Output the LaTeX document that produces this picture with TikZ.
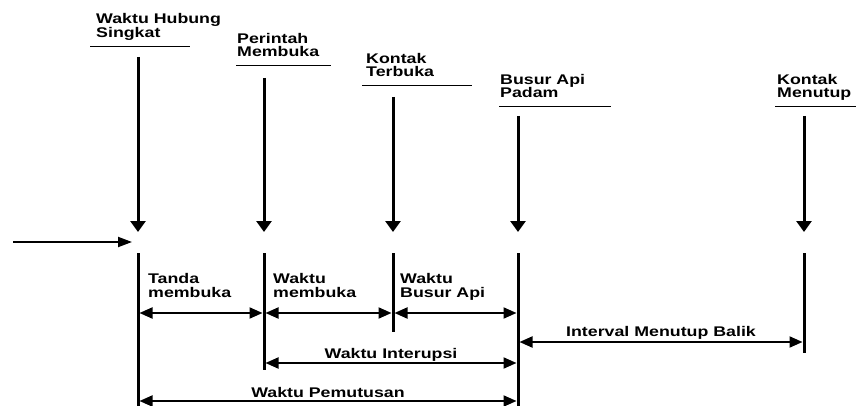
\documentclass[tikz,border=0pt]{standalone}
\usepackage{fontspec}
\setmainfont{Liberation Sans}[FakeStretch=1.27]
\usetikzlibrary{arrows.meta}
\begin{document}
\begin{tikzpicture}[x=1pt,y=-1pt,
  lab/.style={font=\fontsize{14}{13.8}\selectfont\bfseries, inner sep=0pt, align=left},
  tick/.style={line width=3pt, -{Triangle[width=15pt,length=11pt]}},
  span/.style={line width=2pt, {Triangle[width=11pt,length=13pt]}-{Triangle[width=11pt,length=13pt]}},
  feed/.style={line width=2pt, -{Triangle[width=10pt,length=14pt]}},
  rule/.style={line width=1pt},
  bar/.style={line width=3pt}]
\useasboundingbox (0,0) rectangle (856,406);

% headers (base = baseline of last line)
\node[lab, anchor=base west] (h1) at (96,37.5) {Waktu Hubung\\Singkat};
\node[lab, anchor=base west] (h2) at (237,57) {Perintah\\Membuka};
\node[lab, anchor=base west] (h3) at (366,77) {Kontak\\Terbuka};
\node[lab, anchor=base west] (h4) at (500,98) {Busur Api\\Padam};
\node[lab, anchor=base west] (h5) at (777,98) {Kontak\\Menutup};

% underlines
\coordinate (u1a) at (90,46.7);  \coordinate (u1b) at (190,46.7);
\coordinate (u2a) at (236,66);   \coordinate (u2b) at (331,66);
\coordinate (u3a) at (362,86);   \coordinate (u3b) at (472,86);
\coordinate (u4a) at (499,107);  \coordinate (u4b) at (611,107);
\coordinate (u5a) at (775,107);  \coordinate (u5b) at (856,107);
\foreach \i in {1,...,5} \draw[rule] (u\i a) -- (u\i b);

% vertical event arrows
\coordinate (t1) at (138,57);  \coordinate (a1) at (138,232);
\coordinate (t2) at (264,78);  \coordinate (a2) at (264,232);
\coordinate (t3) at (393,97);  \coordinate (a3) at (393,232);
\coordinate (t4) at (518,116); \coordinate (a4) at (518,232);
\coordinate (t5) at (804,116); \coordinate (a5) at (804,232);
\foreach \i in {1,...,5} \draw[tick] (t\i) -- (a\i);

% feed arrow
\coordinate (f0) at (13,242); \coordinate (f1) at (132,242);
\draw[feed] (f0) -- (f1);

% vertical bars
\coordinate (v1a) at (138,253); \coordinate (v1b) at (138,406);
\coordinate (v2a) at (264,253); \coordinate (v2b) at (264,370);
\coordinate (v3a) at (393,253); \coordinate (v3b) at (393,332);
\coordinate (v4a) at (518,253); \coordinate (v4b) at (518,406);
\coordinate (v5a) at (804,253); \coordinate (v5b) at (804,353);
\foreach \i in {1,...,5} \draw[bar] (v\i a) -- (v\i b);

% spans
\coordinate (s1) at (139.5,313); \coordinate (s2l) at (262.5,313);
\coordinate (s2r) at (265.5,313); \coordinate (s3l) at (391.5,313);
\coordinate (s3r) at (394.5,313); \coordinate (s4l) at (516.5,313);
\draw[span] (s1) -- (s2l);
\draw[span] (s2r) -- (s3l);
\draw[span] (s3r) -- (s4l);
\coordinate (i1) at (265.5,363); \coordinate (i2) at (516.5,363);
\draw[span] (i1) -- (i2);
\coordinate (p1) at (139.5,401); \coordinate (p2) at (516.5,401);
\draw[span] (p1) -- (p2);
\coordinate (r1) at (519.5,342); \coordinate (r2) at (802.5,342);
\draw[span] (r1) -- (r2);

% span labels
\node[lab, anchor=base west] (l1) at (148,297) {Tanda\\membuka};
\node[lab, anchor=base west] (l2) at (273,297) {Waktu\\membuka};
\node[lab, anchor=base west] (l3) at (400,297) {Waktu\\Busur Api};
\node[lab, anchor=base] (l4) at (391,358) {Waktu Interupsi};
\node[lab, anchor=base] (l5) at (328,397) {Waktu Pemutusan};
\node[lab, anchor=base] (l6) at (661,336) {Interval Menutup Balik};
\end{tikzpicture}
\end{document}
